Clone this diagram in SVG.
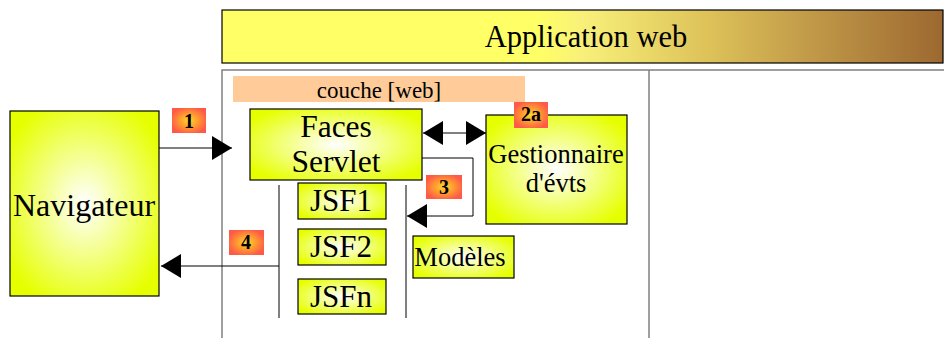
<svg xmlns="http://www.w3.org/2000/svg" width="944" height="338" viewBox="0 0 944 338">
<style>
.box{stroke:#000;stroke-width:1.2;fill:url(#yel)}
.badge{fill:url(#org)}
text{font-family:'Liberation Serif','Times New Roman',serif;fill:#000;text-anchor:middle}
.bt{font-weight:bold;font-size:20px}
.frame{stroke:#808080;stroke-width:1.5;fill:none}
.ln{stroke:#000;stroke-width:1;fill:none}
</style>
<defs>
<radialGradient id="yel" cx="0.5" cy="0.5" r="0.6">
<stop offset="0" stop-color="#ffffff"/>
<stop offset="1" stop-color="#e6ff00"/>
</radialGradient>
<radialGradient id="org" cx="0.5" cy="0.5" r="0.55">
<stop offset="0" stop-color="#ffd830"/>
<stop offset="0.5" stop-color="#ff9a30"/>
<stop offset="1" stop-color="#ff5a48"/>
</radialGradient>
<linearGradient id="hdr" gradientUnits="userSpaceOnUse" x1="222" y1="0" x2="944" y2="0">
<stop offset="0" stop-color="#ffff66"/>
<stop offset="0.44" stop-color="#ffff66"/>
<stop offset="0.5" stop-color="#f8f07a"/>
<stop offset="0.68" stop-color="#dcc058"/>
<stop offset="0.82" stop-color="#c09848"/>
<stop offset="1" stop-color="#9c6830"/>
</linearGradient>
<marker id="ah" viewBox="0 0 20 24" refX="20" refY="12" markerWidth="20" markerHeight="24" markerUnits="userSpaceOnUse" orient="auto-start-reverse">
<path d="M0,0 L20,12 L0,24 Z" fill="#000"/>
</marker>
</defs>
<g id="header">
<rect x="222" y="10" width="721" height="53" fill="url(#hdr)" stroke="#000" stroke-width="1.2"/>
<text x="586" y="47" font-size="30.5">Application web</text>
</g>
<g id="frame">
<path class="frame" d="M222,338 V70 H944 M649,70 V338"/>
</g>
<g id="couche">
<rect x="233" y="76" width="292" height="26" fill="#ffcc99"/>
<text x="379" y="98" font-size="23">couche [web]</text>
</g>
<g id="connectors">
<line class="ln" x1="159" y1="148" x2="232" y2="148" marker-end="url(#ah)"/>
<line class="ln" x1="279" y1="266" x2="161" y2="266" marker-end="url(#ah)"/>
<line class="ln" x1="279" y1="185" x2="279" y2="318"/>
<line class="ln" x1="406" y1="185" x2="406" y2="318"/>
<line class="ln" x1="423" y1="133" x2="486" y2="133" marker-start="url(#ah)" marker-end="url(#ah)"/>
<path class="ln" d="M422,158 H473 V216 H407" marker-end="url(#ah)"/>
</g>
<g id="navigateur">
<rect class="box" x="10" y="111" width="149" height="185"/>
<text x="84" y="216" font-size="32">Navigateur</text>
</g>
<g id="faces-servlet">
<rect class="box" x="250" y="109" width="172" height="71"/>
<text x="336" y="137" font-size="31.5">Faces</text>
<text x="336" y="172" font-size="31.5">Servlet</text>
</g>
<g id="jsf1">
<rect class="box" x="298" y="183" width="88" height="36"/>
<text x="341" y="211" font-size="31">JSF1</text>
</g>
<g id="jsf2">
<rect class="box" x="298" y="229" width="88" height="36"/>
<text x="341" y="257" font-size="31">JSF2</text>
</g>
<g id="jsfn">
<rect class="box" x="298" y="279" width="88" height="35"/>
<text x="341" y="307" font-size="31">JSFn</text>
</g>
<g id="gestionnaire">
<rect class="box" x="486" y="115" width="141" height="109"/>
<text x="556" y="163" font-size="26.5">Gestionnaire</text>
<text x="556" y="192" font-size="26.5">d'évts</text>
</g>
<g id="modeles">
<rect class="box" x="413" y="236" width="101" height="42"/>
<text x="460" y="266" font-size="26.5">Modèles</text>
</g>
<g id="badge1">
<rect class="badge" x="172" y="108" width="34" height="25"/>
<text class="bt" x="189" y="128">1</text>
</g>
<g id="badge2a">
<rect class="badge" x="514" y="102" width="34" height="26"/>
<text class="bt" x="531" y="121">2a</text>
</g>
<g id="badge3">
<rect class="badge" x="426" y="175" width="36" height="24"/>
<text class="bt" x="444" y="194">3</text>
</g>
<g id="badge4">
<rect class="badge" x="229" y="230" width="35" height="25"/>
<text class="bt" x="246" y="249">4</text>
</g>
</svg>
